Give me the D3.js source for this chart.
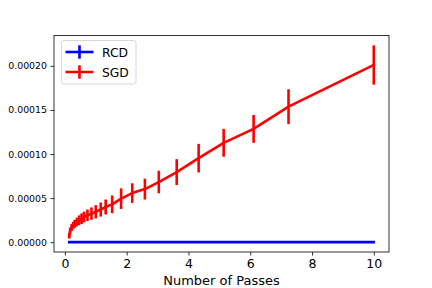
<!DOCTYPE html>
<html>
<head>
<meta charset="utf-8">
<script src="https://cdn.jsdelivr.net/npm/d3@7"></script>
<style>
  html, body { margin: 0; padding: 0; background: #fff; }
  svg { display: block; font-family: "DejaVu Sans", sans-serif; }
</style>
</head>
<body>
<svg id="chart" width="432" height="288"></svg>
<script>
// ---- data ----
const passes = [0.14, 0.17, 0.22, 0.27, 0.32, 0.39, 0.46, 0.54, 0.62, 0.73, 0.86, 1.0, 1.16, 1.32, 1.53, 1.82, 2.18, 2.59, 3.04, 3.62, 4.33, 5.14, 6.11, 7.24, 10.0];
const sgdValues = [0.7e-5, 1.3e-5, 1.68e-5, 1.92e-5, 2.09e-5, 2.29e-5, 2.49e-5, 2.66e-5, 2.86e-5, 3.05e-5, 3.24e-5, 3.45e-5, 3.7e-5, 3.99e-5, 4.29e-5, 4.94e-5, 5.57e-5, 6.02e-5, 6.82e-5, 7.95e-5, 9.53e-5, 11.27e-5, 12.85e-5, 15.37e-5, 20.1e-5];
const sgdErrors = [0.3e-5, 0.35e-5, 0.4e-5, 0.4e-5, 0.45e-5, 0.5e-5, 0.55e-5, 0.6e-5, 0.6e-5, 0.65e-5, 0.7e-5, 0.75e-5, 0.8e-5, 0.85e-5, 1.0e-5, 1.17e-5, 1.11e-5, 1.19e-5, 1.28e-5, 1.47e-5, 1.62e-5, 1.58e-5, 1.58e-5, 1.98e-5, 2.23e-5];
const rcdValues = [0, 0, 0, 0, 0, 0, 0, 0, 0, 0, 0, 0, 0, 0, 0, 0, 0, 0, 0, 0, 0, 0, 0, 0, 0];
const rcdErrors = [0, 0, 0, 0, 0, 0, 0, 0, 0, 0, 0, 0, 0, 0, 0, 0, 0, 0, 0, 0, 0, 0, 0, 0, 0];
const xTicks = [0, 2, 4, 6, 8, 10];
const yTicks = [0, 0.00005, 0.0001, 0.00015, 0.0002];
const seriesNames = ["RCD", "SGD"];
const seriesColors = ["#0000ff", "#ff0000"];
const xLabel = "Number of Passes";

// ---- layout ----
const plot = { left: 54, top: 35.5, right: 389, bottom: 252 };
const svg = d3.select("#chart");

const series = [
  { name: seriesNames[0], color: seriesColors[0], pts: passes.map((x, i) => ({ x, y: rcdValues[i], e: rcdErrors[i] })) },
  { name: seriesNames[1], color: seriesColors[1], pts: passes.map((x, i) => ({ x, y: sgdValues[i], e: sgdErrors[i] })) }
];

const allPts = series.flatMap(s => s.pts);
const xmin = d3.min(passes), xmax = d3.max(passes);
const ymin = d3.min(allPts, p => p.y - p.e), ymax = d3.max(allPts, p => p.y + p.e);
const xm = (xmax - xmin) * 0.05, ym = (ymax - ymin) * 0.05;

const x = d3.scaleLinear().domain([xmin - xm, xmax + xm]).range([plot.left, plot.right]);
const y = d3.scaleLinear().domain([ymin - ym, ymax + ym]).range([plot.bottom, plot.top]);

const g = svg.append("g");

// series
const line = d3.line().x(p => x(p.x)).y(p => y(p.y));
series.forEach(s => {
  g.append("path").datum(s.pts)
    .attr("d", line).attr("fill", "none")
    .attr("stroke", s.color).attr("stroke-width", 2.6)
    .attr("stroke-linejoin", "round").attr("stroke-linecap", "square");
  g.selectAll(null).data(s.pts.filter(p => p.e > 0)).enter().append("line")
    .attr("x1", p => x(p.x)).attr("x2", p => x(p.x))
    .attr("y1", p => y(p.y - p.e)).attr("y2", p => y(p.y + p.e))
    .attr("stroke", s.color).attr("stroke-width", 2.6);
});

// axes
const xAxis = d3.axisBottom(x).tickValues(xTicks).tickSize(3.5).tickPadding(3.5).tickFormat(d3.format("d"));
const yAxis = d3.axisLeft(y).tickValues(yTicks).tickSize(3.5).tickPadding(3.5).tickFormat(d => d.toFixed(5));

const gx = svg.append("g").attr("transform", `translate(0,${plot.bottom})`).call(xAxis);
gx.select(".domain").remove();
gx.selectAll("text").attr("font-size", 12.5).attr("fill", "#000").attr("font-family", "DejaVu Sans");
gx.selectAll("line").attr("stroke", "#000").attr("stroke-width", 0.8);

const gy = svg.append("g").attr("transform", `translate(${plot.left},0)`).call(yAxis);
gy.select(".domain").remove();
gy.selectAll("text").attr("font-size", 9.4).attr("fill", "#000").attr("font-family", "DejaVu Sans");
gy.selectAll("line").attr("stroke", "#000").attr("stroke-width", 0.8);

// frame
svg.append("rect")
  .attr("x", plot.left).attr("y", plot.top)
  .attr("width", plot.right - plot.left).attr("height", plot.bottom - plot.top)
  .attr("fill", "none").attr("stroke", "#000").attr("stroke-width", 0.8);

// x label
svg.append("text")
  .attr("x", (plot.left + plot.right) / 2).attr("y", 285)
  .attr("text-anchor", "middle").attr("font-size", 13).attr("fill", "#000")
  .text(xLabel);

// legend
const leg = svg.append("g");
leg.append("rect").attr("x", 61.5).attr("y", 40.5).attr("width", 74.5).attr("height", 43.5)
  .attr("rx", 2.5).attr("fill", "#fff").attr("fill-opacity", 0.8)
  .attr("stroke", "#cccccc").attr("stroke-width", 0.8);
series.forEach((s, i) => {
  const cy = 52 + i * 20;
  leg.append("line").attr("x1", 65.5).attr("x2", 93.5).attr("y1", cy).attr("y2", cy)
    .attr("stroke", s.color).attr("stroke-width", 2.6);
  leg.append("line").attr("x1", 79.5).attr("x2", 79.5).attr("y1", cy - 6.7).attr("y2", cy + 6.7)
    .attr("stroke", s.color).attr("stroke-width", 2.6);
  leg.append("text").attr("x", 102).attr("y", cy + 4.5)
    .attr("font-size", 12.3).attr("fill", "#000").text(s.name);
});
</script>
</body>
</html>
